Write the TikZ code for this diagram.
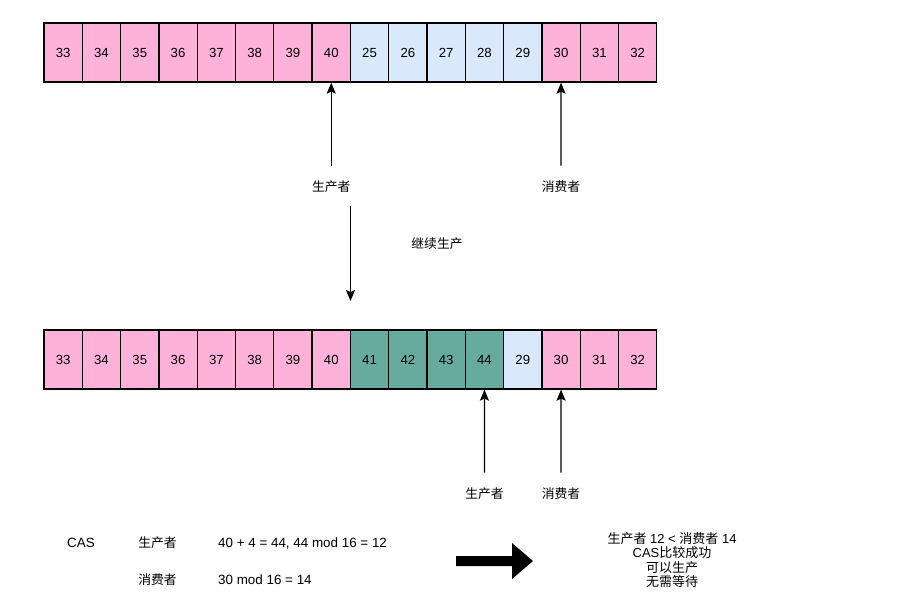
\documentclass[tikz,border=0pt]{standalone}
\usepackage{fontspec}
\setmainfont{Liberation Sans}
\newfontfamily\cjk{Noto Sans CJK SC}
\usepackage{xcolor}
\definecolor{pinkfill}{RGB}{255,178,217}
\definecolor{bluefill}{RGB}{218,232,252}
\definecolor{tealfill}{RGB}{103,171,159}
\usepackage{tikz}
\usetikzlibrary{arrows.meta,positioning}

\begin{document}
\begin{tikzpicture}[x=1pt, y=-1pt,
  cell/.style={rectangle, draw=black, line width=1.3pt, minimum width=38.3pt,
               minimum height=59pt, inner sep=0pt, font=\fontsize{13.2}{15}\selectfont},
  pk/.style={fill=pinkfill},
  bl/.style={fill=bluefill},
  tl/.style={fill=tealfill},
  arr/.style={-{Stealth[length=11pt, width=9pt, inset=2pt]}, line width=1.3pt},
  lbl/.style={font=\fontsize{12.8}{15}\selectfont\cjk},
  txt/.style={font=\fontsize{13.4}{15}\selectfont}
]
\useasboundingbox (0,0) rectangle (912,602);

%% queue before
\foreach \lbl/\sty [count=\i] in {33/pk,34/pk,35/pk,36/pk,37/pk,38/pk,39/pk,40/pk,
    25/bl,26/bl,27/bl,28/bl,29/bl,30/pk,31/pk,32/pk}
  \node[cell, \sty] (t\i) at ({44+38.3*(\i-0.5)},52.5) {\lbl};

%% queue after
\foreach \lbl/\sty [count=\i] in {33/pk,34/pk,35/pk,36/pk,37/pk,38/pk,39/pk,40/pk,
    41/tl,42/tl,43/tl,44/tl,29/bl,30/pk,31/pk,32/pk}
  \node[cell, \sty] (b\i) at ({44+38.3*(\i-0.5)},359.5) {\lbl};

%% pointers
\node[lbl] (prodT) at (331.25,187) {生产者};
\node[lbl] (consT) at (561.05,187) {消费者};
\node[lbl] (prodB) at (484.45,494) {生产者};
\node[lbl] (consB) at (561.05,494) {消费者};

\draw[arr, shorten <=12pt] (prodT) -- (t8);
\draw[arr, shorten <=12pt] (consT) -- (t14);
\draw[arr, shorten <=12pt] (prodB) -- (b12);
\draw[arr, shorten <=12pt] (consB) -- (b14);

%% step
\coordinate (goA) at (350.5,206);
\coordinate (goB) at (350.5,301);
\draw[arr] (goA) -- (goB);
\node[lbl] (goLbl) at (437,244) {继续生产};

%% CAS
\node[txt] (cas) at (81,543) {CAS};
\node[lbl] (casP) at (157.5,543) {生产者};
\node[lbl] (casC) at (157.5,580) {消费者};
\node[txt, anchor=west, inner sep=0pt] (calcP) at (218,543)
  {40 + 4 = 44, 44 mod 16 = 12};
\node[txt, anchor=west, inner sep=0pt] (calcC) at (218,580)
  {30 mod 16 = 14};

\fill (456,556) -- (512,556) -- (512,543) -- (533,561) -- (512,579)
  -- (512,566) -- (456,566) -- cycle;

\node[font=\fontsize{13}{14.5}\selectfont, align=center] (result) at (672,560)
  {{\cjk 生产者} 12 < {\cjk 消费者} 14\\CAS{\cjk 比较成功}\\{\cjk 可以生产}\\{\cjk 无需等待}};
\end{tikzpicture}
\end{document}
